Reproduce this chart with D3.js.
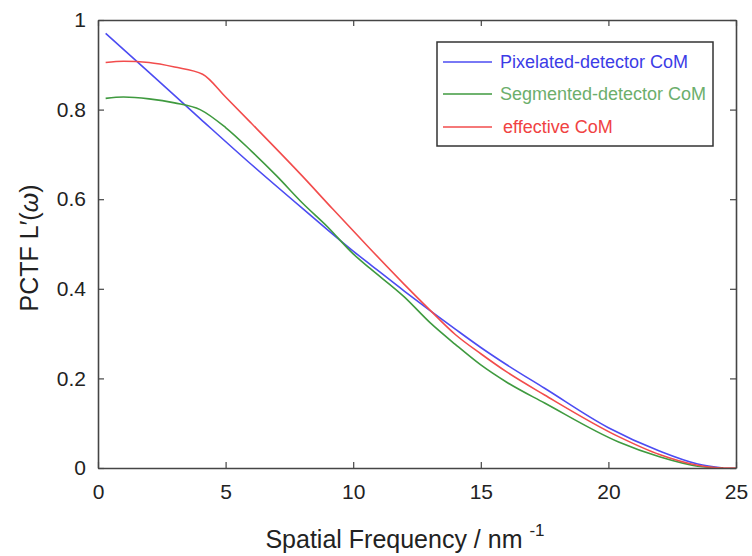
<!DOCTYPE html>
<html>
<head>
<meta charset="utf-8">
<script src="https://cdn.jsdelivr.net/npm/d3@7"></script>
<style>
  body { margin: 0; background: white; }
  text { font-family: "Liberation Sans", Arial, sans-serif; }
</style>
</head>
<body>
<svg id="chart"></svg>
<script>
// values: [spatial frequency, PCTF]
let pixelated = [[0.3,0.97],[2,0.883],[4,0.78],[6,0.678],[8,0.58],[10,0.484],[10.65,0.455],[12,0.395],[13,0.352],[14,0.31],
    [15,0.269],[16,0.231],[17.5,0.178],[20,0.09],[22,0.038],[23.5,0.009],[24.5,0]];
let segmented = [[0.3,0.825],[1,0.828],[2,0.824],[3,0.815],[4,0.8],[5,0.76],[6,0.708],[7,0.652],[8,0.592],[9,0.538],[10,0.478],
    [10.65,0.446],[12,0.382],[13,0.325],[14,0.276],[15,0.23],[16,0.192],[17.5,0.145],[20.4,0.058],[22,0.025],[23.5,0.004],[24.5,0]];
let effective = [[0.3,0.905],[1,0.908],[2,0.905],[3,0.895],[4.1,0.879],[5,0.828],[6,0.77],[8,0.652],[9.2,0.578],[10.65,0.49],
    [12,0.41],[13,0.353],[14,0.298],[15,0.255],[16,0.215],[17.5,0.163],[20.4,0.07],[22,0.03],[23.5,0.006],
    [24.5,0],[25,0]];
let series_names = ['Pixelated-detector CoM', 'Segmented-detector CoM', 'effective CoM'];
let x_ticks = [0, 5, 10, 15, 20, 25];
let y_ticks = [0, 0.2, 0.4, 0.6, 0.8, 1];

let line_colors = ['#4c4cf2', '#3f9a3f', '#f24c4c'];
let text_colors = ['#3c3ce6', '#6cae6c', '#f04242'];

let chart_width = 752, chart_height = 556;
let plot_left = 98, plot_right = 736, plot_top = 20, plot_bottom = 468;
let tick_len = 6;

let svg = d3.select('#chart').attr('width', chart_width).attr('height', chart_height);

let x = d3.scaleLinear().domain([0, 25]).range([plot_left, plot_right]);
let y = d3.scaleLinear().domain([0, 1]).range([plot_bottom, plot_top]);

// curves
let line = d3.line()
    .x(d => x(d[0]))
    .y(d => y(d[1]))
    .curve(d3.curveMonotoneX);

[pixelated, segmented, effective].forEach((s, i) => {
    svg.append('path')
        .attr('d', line(s))
        .attr('fill', 'none')
        .attr('stroke', line_colors[i])
        .attr('stroke-width', 1.6);
});

// axes with inward ticks on all sides
let axis_color = '#454545';
let fmt = d => d3.format('~g')(d);

let gx = svg.append('g').attr('transform', `translate(0,${plot_bottom})`)
    .call(d3.axisBottom(x).tickValues(x_ticks).tickSizeInner(-tick_len).tickSizeOuter(0).tickPadding(16).tickFormat(fmt));
let gy = svg.append('g').attr('transform', `translate(${plot_left},0)`)
    .call(d3.axisLeft(y).tickValues(y_ticks).tickSizeInner(-tick_len).tickSizeOuter(0).tickPadding(12).tickFormat(fmt));
let gt = svg.append('g').attr('transform', `translate(0,${plot_top})`)
    .call(d3.axisTop(x).tickValues(x_ticks).tickSizeInner(-tick_len).tickSizeOuter(0).tickFormat(''));
let gr = svg.append('g').attr('transform', `translate(${plot_right},0)`)
    .call(d3.axisRight(y).tickValues(y_ticks).tickSizeInner(-tick_len).tickSizeOuter(0).tickFormat(''));

[gx, gy, gt, gr].forEach(g => {
    g.select('.domain').attr('stroke', axis_color).attr('stroke-width', 1.6);
    g.selectAll('.tick line').attr('stroke', axis_color).attr('stroke-width', 1.2);
    g.selectAll('.tick text').attr('fill', '#222').style('font-size', '21px')
        .style('font-family', '"Liberation Sans", Arial, sans-serif');
});

// axis labels
let xl = svg.append('text')
    .attr('x', 405)
    .attr('y', 548)
    .attr('text-anchor', 'middle')
    .attr('fill', '#222')
    .style('font-size', '25px');
xl.append('tspan').text('Spatial Frequency / nm ');
xl.append('tspan').attr('dy', -12).style('font-size', '17px').text('-1');

let yl = svg.append('text')
    .attr('transform', 'translate(38,248) rotate(-90)')
    .attr('text-anchor', 'middle')
    .attr('fill', '#222')
    .style('font-size', '25px');
yl.append('tspan').text('PCTF L′(');
yl.append('tspan').style('font-style', 'italic').text('ω');
yl.append('tspan').text(')');

// legend
let lg = svg.append('g');
lg.append('rect')
    .attr('x', 437).attr('y', 42)
    .attr('width', 276).attr('height', 104)
    .attr('fill', 'white')
    .attr('stroke', '#333')
    .attr('stroke-width', 1.5);

let legend_y = [62, 94, 127];
series_names.forEach((name, i) => {
    lg.append('line')
        .attr('x1', 443).attr('x2', 492)
        .attr('y1', legend_y[i]).attr('y2', legend_y[i])
        .attr('stroke', line_colors[i])
        .attr('stroke-width', 1.6);
    lg.append('text')
        .attr('x', i == 2 ? 503 : 500)
        .attr('y', legend_y[i] + 6)
        .attr('fill', text_colors[i])
        .style('font-size', '18px')
        .text(name);
});
</script>
</body>
</html>
